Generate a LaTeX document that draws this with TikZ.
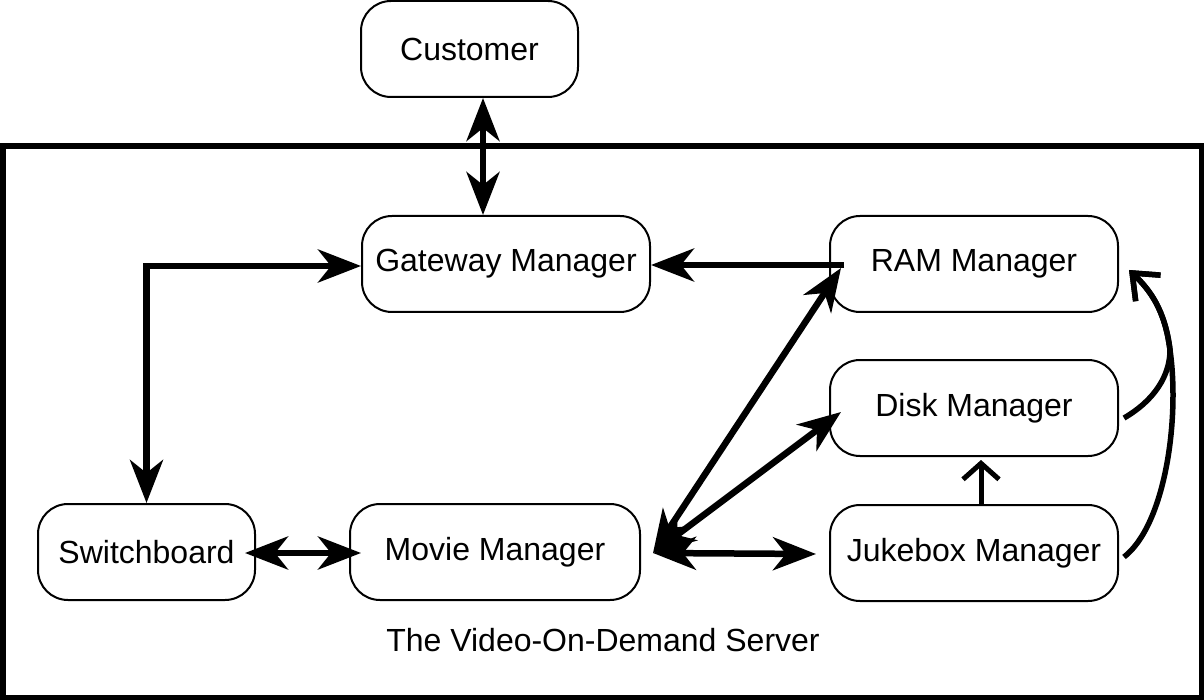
\documentclass[tikz,border=0pt]{standalone}
\usepackage{fontspec}
\setmainfont{Liberation Sans}
\usetikzlibrary{arrows.meta}

\tikzset{
    mgr/.style={draw, line width=2pt, rounded corners=30pt, minimum width=288pt, minimum height=96pt, inner sep=0pt},
    conn/.style={line width=6.5pt, {Stealth[length=43pt,width=33pt,inset=13pt]}-{Stealth[length=43pt,width=33pt,inset=13pt]}},
    onto/.style={line width=6.5pt, -{Stealth[length=43pt,width=33pt,inset=13pt]}},
    barb/.style={line width=5pt, -{Straight Barb[length=16pt,width=36pt]}},
}

\begin{document}
\begin{tikzpicture}[x=1pt, y=-1pt, font=\fontsize{32}{38}\selectfont]
    \useasboundingbox (0,0) rectangle (1204,700);
    \draw[line width=5.5pt] (2.75,146) rectangle (1201.25,697.25);
    \node (customer) at (469.5,49)[mgr, minimum width=217pt]{Customer};
    \node (gateway) at (506,264)[mgr]{Gateway Manager};
    \foreach \n/\y/\t in {ram/264/RAM Manager, disk/408/Disk Manager, jukebox/553/Jukebox Manager}{
        \node (\n) at (974,\y)[mgr]{\t};
    }
    \node (switchboard) at (146.5,552)[mgr, minimum width=217pt]{Switchboard};
    \node (movie) at (495,552)[mgr, minimum width=290pt]{Movie Manager};
    \node (server) at (603,640){The Video-On-Demand Server};

    \draw[conn] ([xshift=13.5pt]customer.south) -- ([xshift=-23pt]gateway.north);
    \draw[onto] ([xshift=15pt,yshift=-1pt]ram.west) -- ([yshift=-1pt]gateway.east);
    \draw[conn] ([yshift=-2pt]gateway.west) -| (switchboard.north);
    \draw[conn] ([xshift=-11pt,yshift=-1pt]switchboard.east) -- ([xshift=12pt,yshift=-1pt]movie.west);
    \draw[conn] ([xshift=12pt,yshift=-1pt]movie.east) -- ([xshift=12pt,yshift=-4pt]ram.west);
    \draw[conn] ([xshift=12pt,yshift=-1pt]movie.east) -- ([xshift=12pt,yshift=-4pt]disk.west);
    \draw[conn] ([xshift=12pt,yshift=-1pt]movie.east) -- ([xshift=-13pt,yshift=-1pt]jukebox.west);
    \draw[barb] ([xshift=7pt]jukebox.north) -- ([xshift=7pt,yshift=-3pt]disk.south);

    \coordinate (ramin) at ([xshift=10pt,yshift=-6pt]ram.east);
    \coordinate (bend) at (1170,350);
    \draw[line width=5.5pt, -{Straight Barb[length=22pt,width=36pt]}] ([xshift=5pt,yshift=-4pt]jukebox.east)
        .. controls (1165,525) and (1180,420) .. (bend) .. controls (1165,310) and (1150,290) .. (ramin);
    \draw[line width=5.5pt, -{Straight Barb[length=22pt,width=36pt]}] ([xshift=5pt,yshift=-10pt]disk.east)
        .. controls (1155,400) and (1170,375) .. (bend) .. controls (1165,310) and (1150,290) .. (ramin);
  \end{tikzpicture}
\end{document}
